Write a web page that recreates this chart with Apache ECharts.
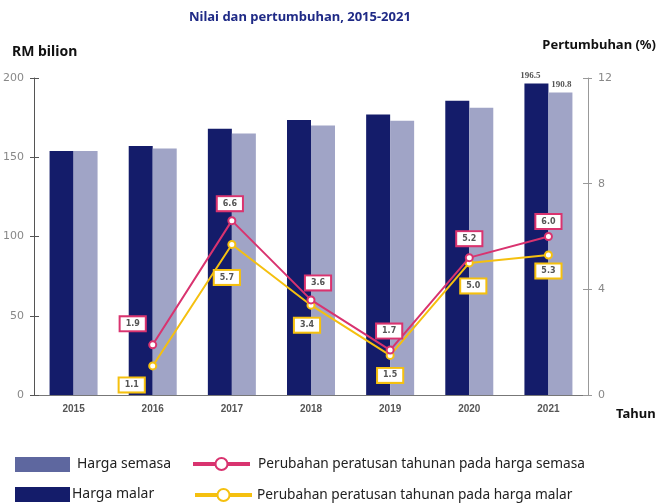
<!DOCTYPE html>
<html>
<head>
<meta charset="utf-8">
<script src="https://cdn.jsdelivr.net/npm/echarts@6/dist/echarts.min.js"></script>
<style>
  html, body { margin: 0; padding: 0; background: #fff; }
  #chart { width: 658px; height: 503px; }
</style>
</head>
<body>
<div id="chart"></div>
<script>
var years = ['2015', '2016', '2017', '2018', '2019', '2020', '2021'];
var hargaMalar = [154, 157.1, 168, 173.5, 177, 185.7, 196.5];
var hargaSemasa = [154, 155.5, 165, 170, 173, 181.3, 190.8];
var growthSemasa = [null, 1.9, 6.6, 3.6, 1.7, 5.2, 6.0];
var growthMalar = [null, 1.1, 5.7, 3.4, 1.5, 5.0, 5.3];
var leftTicks = [0, 50, 100, 150, 200];
var rightTicks = [0, 4, 8, 12];

// where each boxed label sits relative to its point
var offSemasa = [[0, 0], [-20, -21], [-2, -17], [7, -17], [-1, -19], [0, -19], [0, -15]];
var offMalar = [[0, 0], [-21, 19], [-5, 33], [-4, 20], [0, 20], [4, 23], [0, 16]];

var NAVY = '#141c6a';
var LIGHT = '#a0a4c6';
var PINK = '#d9336f';
var YELLOW = '#f5c00f';
var FONT = 'Noto Sans';

var dom = document.getElementById('chart');
var myChart = echarts.init(dom, null, { renderer: 'canvas' });

function lineData(vals, offs, color) {
    return vals.map(function (v, i) {
        if (v === null) return null;
        return {
            value: v,
            label: {
                show: true,
                position: 'inside',
                offset: offs[i],
                formatter: function (p) { return p.value.toFixed(1); },
                backgroundColor: '#fff',
                borderColor: color,
                borderWidth: 2,
                padding: [3, 5, 2, 5],
                color: '#555',
                fontFamily: 'DejaVu Sans',
                fontWeight: 'bold',
                fontSize: 8
            }
        };
    });
}

function barData(vals, dx) {
    return vals.map(function (v, i) {
        if (i !== vals.length - 1) return v;
        return {
            value: v,
            label: {
                show: true,
                position: 'top',
                distance: 3,
                offset: [dx, 0],
                color: '#555',
                fontFamily: 'Liberation Serif',
                fontWeight: 'bold',
                fontSize: 9
            }
        };
    });
}

var tickOnly = function (pos, max, interval, color) {
    return {
        type: 'value', position: pos, min: 0, max: max, interval: interval,
        axisLine: { show: false },
        axisTick: { show: true, inside: true, length: 5, lineStyle: { color: color } },
        axisLabel: { show: false },
        splitLine: { show: false }
    };
};

option = {
    animation: false,
    title: [
        {
            text: 'Nilai dan pertumbuhan, 2015-2021',
            left: 189, top: 11, padding: 0,
            textStyle: { fontFamily: FONT, fontSize: 13, fontWeight: 'bold', color: '#1f2a86' }
        },
        {
            text: 'RM bilion', left: 12, top: 45, padding: 0,
            textStyle: { fontFamily: FONT, fontSize: 14, fontWeight: 'bold', color: '#111' }
        },
        {
            text: 'Pertumbuhan (%)', right: 2, top: 39, padding: 0,
            textStyle: { fontFamily: FONT, fontSize: 13, fontWeight: 'bold', color: '#111' }
        },
        {
            text: 'Tahun', left: 616, top: 408, padding: 0,
            textStyle: { fontFamily: FONT, fontSize: 13, fontWeight: 'bold', color: '#111' }
        }
    ],
    legend: [
        {
            left: 10, top: 452, itemWidth: 55, itemHeight: 15, itemGap: 0, icon: 'rect',
            textStyle: { fontFamily: FONT, fontSize: 14, color: '#222', padding: [0, 0, 0, 2] },
            data: [{ name: 'Harga semasa', itemStyle: { color: '#5e679f' } }]
        },
        {
            left: 10, top: 482, itemWidth: 55, itemHeight: 15, itemGap: 0, icon: 'rect',
            textStyle: { fontFamily: FONT, fontSize: 14, color: '#222', padding: [0, 0, 0, -3] },
            data: ['Harga malar']
        },
        {
            left: 186, top: 452, itemWidth: 57, itemHeight: 15, itemGap: 0,
            lineStyle: { width: 4 },
            textStyle: { fontFamily: FONT, fontSize: 13.7, color: '#222', padding: [0, 0, 0, 3] },
            data: ['Perubahan peratusan tahunan pada harga semasa']
        },
        {
            left: 188, top: 483, itemWidth: 57, itemHeight: 15, itemGap: 0,
            lineStyle: { width: 4 },
            textStyle: { fontFamily: FONT, fontSize: 13.7, color: '#222', padding: [0, 0, 0, 0] },
            data: ['Perubahan peratusan tahunan pada harga malar']
        }
    ],
    grid: { left: 34, right: 70, top: 78, bottom: 108 },
    xAxis: {
        type: 'category',
        data: years,
        axisLine: { lineStyle: { color: '#777', width: 1 } },
        axisTick: { show: false },
        axisLabel: { margin: 9, color: '#555', fontFamily: 'Liberation Sans', fontWeight: 'bold', fontSize: 10 }
    },
    yAxis: [
        {
            type: 'value', position: 'left', min: leftTicks[0], max: leftTicks[leftTicks.length - 1], interval: 50,
            axisLine: { show: true, lineStyle: { color: '#555' } },
            axisTick: { show: true, length: 4, lineStyle: { color: '#555' } },
            axisLabel: { margin: 10, color: '#888', fontFamily: 'DejaVu Sans', fontSize: 11 },
            splitLine: { show: false }
        },
        {
            type: 'value', position: 'right', min: rightTicks[0], max: rightTicks[rightTicks.length - 1], interval: 4,
            axisLine: { show: true, lineStyle: { color: '#999' } },
            axisTick: { show: true, length: 4, lineStyle: { color: '#999' } },
            axisLabel: { margin: 10, color: '#888', fontFamily: 'DejaVu Sans', fontSize: 11 },
            splitLine: { show: false }
        },
        tickOnly('left', 200, 50, '#555'),
        tickOnly('right', 12, 4, '#999')
    ],
    series: [
        {
            name: 'Harga malar',
            type: 'bar',
            yAxisIndex: 0,
            barWidth: 24,
            barGap: '0%',
            itemStyle: { color: NAVY },
            data: barData(hargaMalar, -6)
        },
        {
            name: 'Harga semasa',
            type: 'bar',
            yAxisIndex: 0,
            barWidth: 24,
            barGap: '0%',
            itemStyle: { color: LIGHT },
            data: barData(hargaSemasa, 1)
        },
        {
            name: 'Perubahan peratusan tahunan pada harga semasa',
            type: 'line',
            yAxisIndex: 1,
            symbol: 'emptyCircle',
            symbolSize: 7,
            color: PINK,
            lineStyle: { width: 2, color: PINK },
            itemStyle: { borderWidth: 2 },
            z: 4,
            data: lineData(growthSemasa, offSemasa, PINK)
        },
        {
            name: 'Perubahan peratusan tahunan pada harga malar',
            type: 'line',
            yAxisIndex: 1,
            symbol: 'emptyCircle',
            symbolSize: 7,
            color: YELLOW,
            lineStyle: { width: 2, color: YELLOW },
            itemStyle: { borderWidth: 2 },
            z: 3,
            data: lineData(growthMalar, offMalar, YELLOW)
        }
    ]
};
if (option && typeof option === "object") {
    myChart.setOption(option, true);
}
</script>
</body>
</html>
